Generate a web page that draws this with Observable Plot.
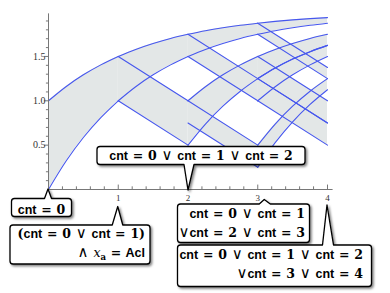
<!DOCTYPE html>
<html><head><meta charset="utf-8">
<script src="https://cdn.jsdelivr.net/npm/d3@7"></script>
<script src="https://cdn.jsdelivr.net/npm/@observablehq/plot@0.6"></script>
<style>body{margin:0;background:#fff} svg{display:block}</style>
</head><body><div id="chart"></div>
<script>
// ---- data ----
const sampleT = [0, 0.25, 0.5, 0.75, 1];
const riseStart = [0, 1, 2, 2, 3, 3, 3, 3];
const riseLo = [
  [0, 0.318, 0.586, 0.81, 1.0],
  [1.0, 1.159, 1.293, 1.405, 1.5],
  [1.5, 1.579, 1.646, 1.703, 1.75],
  [0.5, 0.738, 0.939, 1.108, 1.25],
  [1.75, 1.79, 1.823, 1.851, 1.875],
  [1.25, 1.369, 1.47, 1.554, 1.625],
  [1.0, 1.159, 1.293, 1.405, 1.5],
  [0.25, 0.528, 0.763, 0.959, 1.125]
];
const riseHi = [
  [1.0, 1.159, 1.293, 1.405, 1.5],
  [1.5, 1.579, 1.646, 1.703, 1.75],
  [1.75, 1.79, 1.823, 1.851, 1.875],
  [1.0, 1.159, 1.293, 1.405, 1.5],
  [1.875, 1.895, 1.912, 1.926, 1.9375],
  [1.5, 1.579, 1.646, 1.703, 1.75],
  [1.25, 1.369, 1.47, 1.554, 1.625],
  [0.5, 0.738, 0.939, 1.108, 1.25]
];
const fallStart = [1, 2, 2, 3, 3, 3];
const fallLo = [[1.0, 0.5], [1.5, 1.0], [0.75, 0.25], [1.75, 1.25], [1.25, 0.75], [1.0, 0.5]];
const fallHi = [[1.5, 1.0], [1.75, 1.25], [1.0, 0.5], [1.875, 1.375], [1.5, 1.0], [1.25, 0.75]];
const xMajor = [1, 2, 3, 4];
const xLabels = ["1", "2", "3", "4"];
const xMinor = [0.2, 0.4, 0.6, 0.8, 1.2, 1.4, 1.6, 1.8, 2.2, 2.4, 2.6, 2.8, 3.2, 3.4, 3.6, 3.8];
const yMajor = [0.5, 1.0, 1.5];
const yLabels = ["0.5", "1.0", "1.5"];
const yMinor = [0.1, 0.2, 0.3, 0.4, 0.6, 0.7, 0.8, 0.9, 1.1, 1.2, 1.3, 1.4, 1.6, 1.7, 1.8, 1.9];
const calloutTick = [0, 1, 2, 3, 4];
const calloutText = [
  ["cnt = 0"],
  ["(cnt = 0 ∨ cnt = 1)", "∧ x_a = Acl"],
  ["cnt = 0 ∨ cnt = 1 ∨ cnt = 2"],
  ["cnt = 0 ∨ cnt = 1", "∨cnt = 2 ∨ cnt = 3"],
  ["cnt = 0 ∨ cnt = 1 ∨ cnt = 2", "∨cnt = 3 ∨ cnt = 4"]
];

// ---- build tables ----
const riseRows = [];
riseStart.forEach((x0, i) => sampleT.forEach((t, j) =>
  riseRows.push({band: i, x: x0 + t, lo: riseLo[i][j], hi: riseHi[i][j]})));
const fallRows = [];
fallStart.forEach((x0, i) => [0, 1].forEach(j =>
  fallRows.push({band: i, x: x0 + j, lo: fallLo[i][j], hi: fallHi[i][j]})));

const BLUE = "#4657ee", FILL = "#e3e7e7", AX = "#777";
const plot = Plot.plot({
  width: 390, height: 293,
  marginLeft: 48, marginRight: 63, marginTop: 11.6, marginBottom: 104,
  x: {domain: [0, 4], axis: null},
  y: {domain: [0, 2], axis: null},
  marks: [
    Plot.areaY(riseRows, {x: "x", y1: "lo", y2: "hi", z: "band", fill: FILL, curve: "monotone-x"}),
    Plot.areaY(fallRows, {x: "x", y1: "lo", y2: "hi", z: "band", fill: FILL}),
    Plot.lineY(riseRows, {x: "x", y: "lo", z: "band", stroke: BLUE, strokeWidth: 1.1, curve: "monotone-x"}),
    Plot.lineY(riseRows, {x: "x", y: "hi", z: "band", stroke: BLUE, strokeWidth: 1.1, curve: "monotone-x"}),
    Plot.lineY(fallRows, {x: "x", y: "lo", z: "band", stroke: BLUE, strokeWidth: 1.1}),
    Plot.lineY(fallRows, {x: "x", y: "hi", z: "band", stroke: BLUE, strokeWidth: 1.1}),
    Plot.ruleY([0], {x1: 0, x2: 4.08, stroke: AX}),
    Plot.ruleX([0], {y1: 0, y2: 1.98, stroke: AX}),
    Plot.ruleX(xMinor, {x: d => d, y1: 0, y2: 0.03, stroke: AX}),
    Plot.ruleX(xMajor, {x: d => d, y1: 0, y2: 0.05, stroke: AX}),
    Plot.ruleY(yMinor, {y: d => d, x1: -0.03, x2: 0, stroke: AX}),
    Plot.ruleY(yMajor, {y: d => d, x1: -0.06, x2: 0, stroke: AX}),
    Plot.text(xMajor, {x: d => d, y: 0, text: (d, i) => xLabels[i], dy: 9, fontFamily: "Liberation Serif", fontSize: 9, fill: "#333"}),
    Plot.text(yMajor, {x: 0, y: d => d, text: (d, i) => yLabels[i], dx: -3, textAnchor: "end", fontFamily: "Liberation Serif", fontSize: 10, fill: "#333"})
  ]
});
document.getElementById("chart").appendChild(plot);

// ---- callouts ----
const layout = [
  {box: [11.5, 198.5, 71.5, 216.5], side: "top", base: [-3.5, 3.5], tipDx: 0, tipY: 189, anchor: "middle", lines: [[41.5, 213.5]]},
  {box: [10, 225, 150, 264], side: "top", base: [-5.5, 5], tipDx: 0, tipY: 206.5, anchor: "end", lines: [[145, 238], [145, 257]]},
  {box: [97, 146.5, 305, 164.5], side: "bottom", base: [-3.5, 6.5], tipDx: 0.5, tipY: 190, anchor: "middle", lines: [[201, 160]]},
  {box: [177.5, 204, 309.5, 242.5], side: "top", base: [2, 13], tipDx: 7, tipY: 199.5, anchor: "end", lines: [[305, 217.5], [305, 236.5]]},
  {box: [177.5, 245, 371.5, 286.5], side: "top", base: [-4.5, 6.5], tipDx: 0, tipY: 205, anchor: "end", lines: [[363, 258.5], [363, 278]]}
];
const svg = d3.select(plot);
const defs = svg.append("defs");
const f = defs.append("filter").attr("id", "sh").attr("x", "-10%").attr("y", "-10%").attr("width", "130%").attr("height", "140%");
f.append("feDropShadow").attr("dx", 1.6).attr("dy", 1.6).attr("stdDeviation", 1).attr("flood-color", "#000").attr("flood-opacity", 0.5);
const sx = plot.scale("x");
const r = 3;
function calloutPath(L, tx) {
  const [x0, y0, x1, y1] = L.box;
  const b0 = tx + L.base[0], b1 = tx + L.base[1], tipX = tx + L.tipDx;
  let p = `M${x0 + r},${y0}`;
  if (L.side === "top") p += `L${b0},${y0}L${tipX},${L.tipY}L${b1},${y0}`;
  p += `L${x1 - r},${y0}Q${x1},${y0} ${x1},${y0 + r}L${x1},${y1 - r}Q${x1},${y1} ${x1 - r},${y1}`;
  if (L.side === "bottom") p += `L${b1},${y1}L${tipX},${L.tipY}L${b0},${y1}`;
  p += `L${x0 + r},${y1}Q${x0},${y1} ${x0},${y1 - r}L${x0},${y0 + r}Q${x0},${y0} ${x0 + r},${y0}Z`;
  return p;
}
const FS = 12.5;
function addMath(g, str, x, y, anchor) {
  const t = g.append("text").attr("x", x).attr("y", y).attr("text-anchor", anchor)
    .style("font-size", FS + "px").style("white-space", "pre").attr("fill", "#000");
  const toks = str.match(/x_a|cnt|Acl|[0-9]+|[=()]|[∨∧]| +/g);
  let pendingDy = 0, pendingDx = 0;
  for (const tok of toks) {
    if (/^ +$/.test(tok)) {
      t.append("tspan").text(tok).style("font-family", "Liberation Sans").style("font-weight", "bold");
      pendingDx += 1.3 * tok.length;
      continue;
    }
    const add = (txt, fam, wt, st, size) => {
      const s = t.append("tspan").text(txt).style("font-family", fam).style("font-weight", wt).style("font-style", st || "normal");
      if (size) s.style("font-size", size + "px");
      if (pendingDx) { s.attr("dx", pendingDx); pendingDx = 0; }
      if (pendingDy) { s.attr("dy", pendingDy); pendingDy = 0; }
      return s;
    };
    if (tok === "cnt" || tok === "Acl") add(tok, "Liberation Sans", "bold");
    else if (/^[0-9]+$/.test(tok) || /^[=()]$/.test(tok)) add(tok, "DejaVu Serif", "bold");
    else if (tok === "∨" || tok === "∧") add(tok, "DejaVu Sans", "normal", "normal", 15);
    else if (tok === "x_a") {
      add("x", "DejaVu Serif", "normal", "italic");
      add("a", "DejaVu Serif", "bold", "normal", 8.5).attr("dy", 2.5);
      pendingDy = -2.5;
    }
  }
}
layout.forEach((L, i) => {
  const tx = sx.apply(calloutTick[i]);
  const g = svg.append("g");
  g.append("path").attr("d", calloutPath(L, tx)).attr("fill", "#fff").attr("stroke", "#000")
    .attr("stroke-width", 1.3).attr("stroke-linejoin", "round").attr("filter", "url(#sh)");
  calloutText[i].forEach((line, k) => addMath(g, line, L.lines[k][0], L.lines[k][1], L.anchor));
});
</script>
</body></html>
